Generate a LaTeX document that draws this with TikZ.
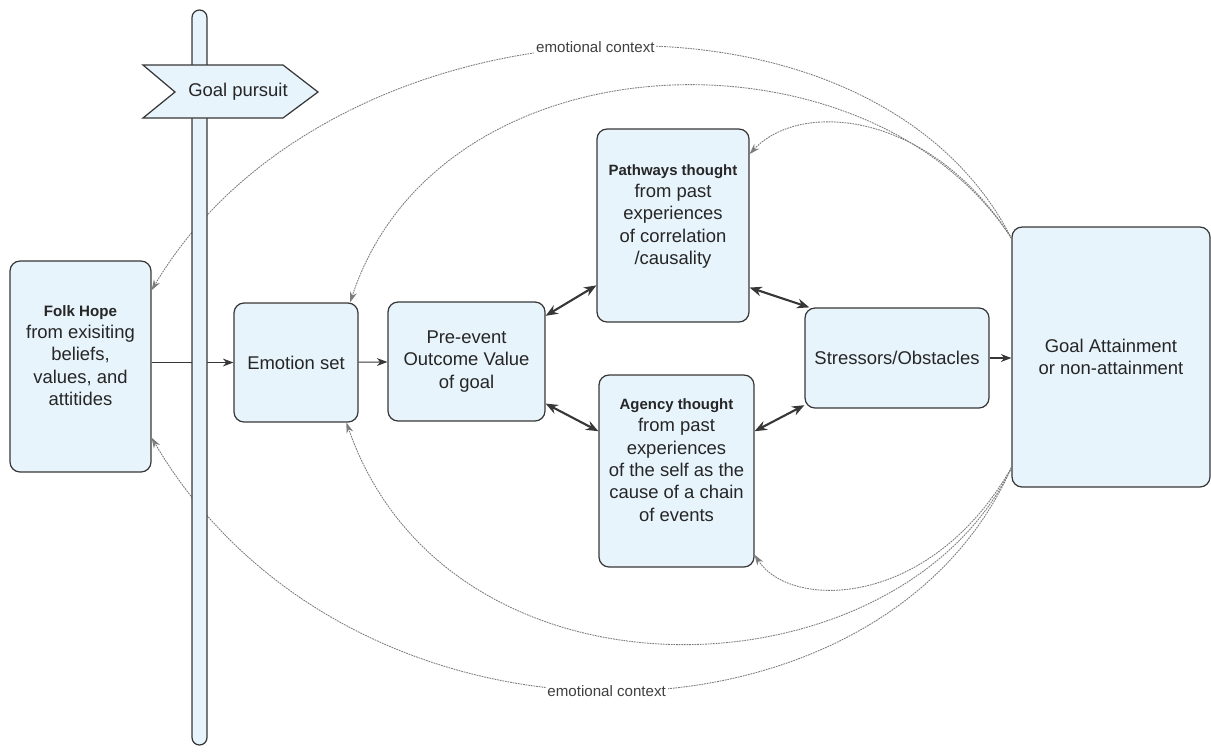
\documentclass[tikz,border=0pt]{standalone}
\usepackage{fontspec}
\setmainfont{Liberation Sans}
\usetikzlibrary{arrows.meta}
\definecolor{boxfill}{RGB}{232,244,252}
\definecolor{boxline}{RGB}{55,55,55}
\definecolor{ctxline}{RGB}{125,125,125}

\begin{document}
\begin{tikzpicture}
  [x=0.02cm,y=-0.02cm,
   every node/.style={font=\fontsize{10.5}{12.7}\selectfont,text=black!85},
   box/.style={draw=boxline,fill=boxfill,line width=0.7pt,rounded corners=0.2cm,align=center,inner sep=2pt},
   flow/.style={draw=boxline,line width=0.6pt,-{Stealth[length=6pt,width=4.5pt]}},
   link/.style={draw=boxline,line width=1.2pt,{Stealth[length=7pt,width=5.5pt]}-{Stealth[length=7pt,width=5.5pt]}},
   ctx/.style={draw=ctxline,line width=0.5pt,dash pattern=on 1pt off 0.5pt,-{Stealth[length=6pt,width=4pt]}},
   ctxlabel/.style={fill=white,inner sep=1pt,font=\fontsize{8.6}{10}\selectfont,text=black!75},
   pole/.style={draw=boxline,fill=boxfill,line width=0.7pt}]

  \useasboundingbox (0,0) rectangle (1211,755);

  % boxes
  \node[box,minimum width=2.82cm,minimum height=4.22cm] (folk) at (80.5,366.5)
    {{\bfseries\fontsize{8.6}{12.7}\selectfont Folk Hope}\\from exisiting\\beliefs,\\values, and\\attitides\\\mbox{}};
  \node[box,minimum width=2.48cm,minimum height=2.38cm] (emo) at (296,362.5) {Emotion set};
  \node[box,minimum width=3.14cm,minimum height=2.38cm] (pre) at (466.5,361.5) {Pre-event\\Outcome Value\\of goal};
  \node[box,minimum width=3.04cm,minimum height=3.86cm] (pathw) at (673,225.5)
    {{\bfseries\fontsize{8.5}{12.7}\selectfont Pathways thought}\\from past\\experiences\\of correlation\\/causality\\\mbox{}};
  \node[box,minimum width=3.1cm,minimum height=3.84cm] (agency) at (676.5,471)
    {{\bfseries\fontsize{8.5}{12.7}\selectfont Agency thought}\\from past\\experiences\\of the self as the\\cause of a chain\\of events\\\mbox{}};
  \node[box,minimum width=3.68cm,minimum height=2cm] (stress) at (897,358) {Stressors/Obstacles};
  \node[box,minimum width=3.96cm,minimum height=5.2cm] (goal) at (1111,357) {Goal Attainment\\or non-attainment};

  % flow
  \draw[flow] (emo.west -| folk.east) -- (emo.west);
  \draw[flow] (emo) -- (pre);
  \draw[flow] (stress.east) -- (stress.east -| goal.west);

  \draw[link] (pre.30) -- (pathw.218);
  \draw[link] (pre.-28) -- (agency.153);
  \draw[link] (pathw.-39) -- (stress.150);
  \draw[link] (agency.27) -- (stress.207);

  % emotional context
  \draw[ctx] (goal.130) .. controls (870,-40) and (330,-10) .. node[ctxlabel] (ctxtop) {emotional context} (folk.47);
  \draw[ctx] (goal.130) .. controls (870,20) and (440,30) .. (emo.48);
  \draw[ctx] (goal.130) .. controls (930,110) and (800,100) .. (pathw.43);
  \draw[ctx] (goal.228) .. controls (880,765) and (350,775) .. node[ctxlabel] (ctxbot) {emotional context} (folk.-45);
  \draw[ctx] (goal.228) .. controls (900,700) and (450,720) .. (emo.-50);
  \draw[ctx] (goal.228) .. controls (930,610) and (790,610) .. (agency.-47);

  % signpost
  \draw[pole,rounded corners=0.15cm] (192,10) rectangle (207,745);
  \draw[pole] (143,65) -- (283,65) -- (318,92) -- (283,118) -- (143,118) -- (175,92) -- cycle;
  \node (pursuit) at (238,92) {Goal pursuit};
\end{tikzpicture}
\end{document}
